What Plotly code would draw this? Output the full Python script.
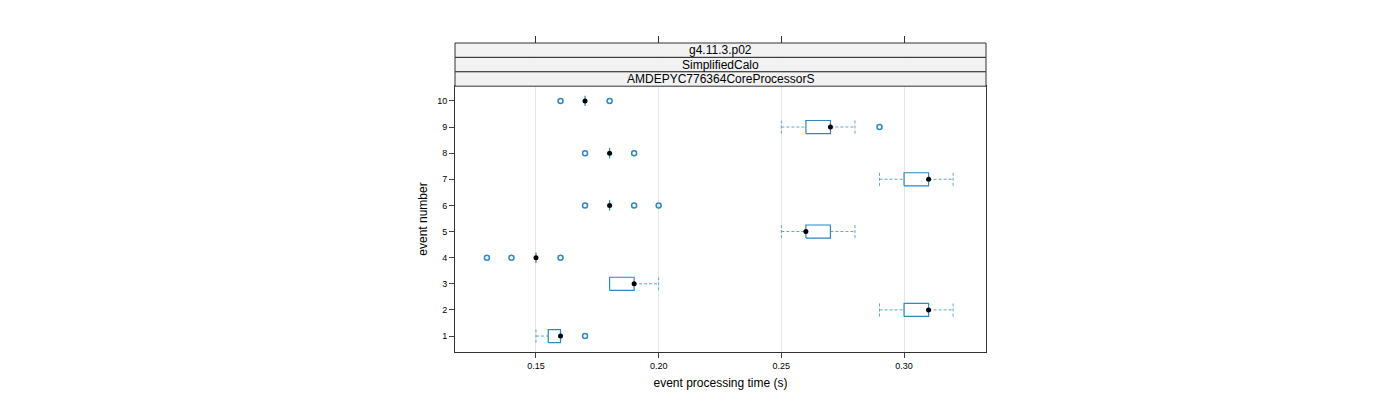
import plotly.graph_objects as go

events = [1, 2, 3, 4, 5, 6, 7, 8, 9, 10]
lo  = [0.150, 0.29, 0.18, 0.15, 0.25, 0.18, 0.29, 0.18, 0.25, 0.17]
q1  = [0.155, 0.30, 0.18, 0.15, 0.26, 0.18, 0.30, 0.18, 0.26, 0.17]
med = [0.160, 0.31, 0.19, 0.15, 0.26, 0.18, 0.31, 0.18, 0.27, 0.17]
q3  = [0.160, 0.31, 0.19, 0.15, 0.27, 0.18, 0.31, 0.18, 0.27, 0.17]
hi  = [0.160, 0.32, 0.20, 0.15, 0.28, 0.18, 0.32, 0.18, 0.28, 0.17]
outliers = {1: [0.17], 4: [0.13, 0.14, 0.16], 6: [0.17, 0.19, 0.20],
            8: [0.17, 0.19], 9: [0.29], 10: [0.16, 0.18]}
strips = ["g4.11.3.p02", "SimplifiedCalo", "AMDEPYC776364CoreProcessorS"]

BOX = "#2b88c4"
WH = "#5aa6d6"
hw = 0.25

fig = go.Figure()
bx, by, wx, wy, cx, cy = [], [], [], [], [], []
for e, a, b, m, c, d in zip(events, lo, q1, med, q3, hi):
    if c > b:
        bx += [b, c, c, b, b, None]
        by += [e - hw, e - hw, e + hw, e + hw, e - hw, None]
    else:
        bx += [m, m, None]
        by += [e - hw * 0.8, e + hw * 0.8, None]
    if b > a:
        wx += [a, b, None, a, a, None]
        wy += [e, e, None, e - hw, e + hw, None]
    if d > c:
        wx += [c, d, None, d, d, None]
        wy += [e, e, None, e - hw, e + hw, None]
fig.add_trace(go.Scatter(x=wx, y=wy, mode="lines", line=dict(color=WH, width=1, dash="3px,2px"), hoverinfo="skip"))
fig.add_trace(go.Scatter(x=bx, y=by, mode="lines", line=dict(color=BOX, width=1.2), hoverinfo="skip"))
ox, oy = [], []
for e, vals in outliers.items():
    for v in vals:
        ox.append(v); oy.append(e)
fig.add_trace(go.Scatter(x=ox, y=oy, mode="markers",
                         marker=dict(symbol="circle-open", size=5, color=BOX, line=dict(width=1.5))))
fig.add_trace(go.Scatter(x=med, y=events, mode="markers", marker=dict(color="black", size=5)))

shapes = []
sh = 14.4 / 266
top = 1 + 43 / 266
for i, s in enumerate(strips):
    y1 = top - i * sh
    shapes.append(dict(type="rect", xref="paper", yref="paper", x0=0, x1=1, y0=y1 - sh, y1=y1,
                       fillcolor="#f2f2f2", line=dict(color="#333", width=1)))
annotations = [dict(text=s, xref="paper", yref="paper", x=0.5, y=top - i * sh - sh / 2,
                    showarrow=False, font=dict(size=12, color="black"), yanchor="middle")
               for i, s in enumerate(strips)]

fig.update_layout(
    width=1400, height=400, showlegend=False,
    plot_bgcolor="white", paper_bgcolor="white",
    margin=dict(l=447, r=422, t=78, b=56),
    font=dict(family="Liberation Sans, Arial", color="black"),
    shapes=shapes, annotations=annotations,
    xaxis=dict(range=[0.117, 0.3334], tickvals=[0.15, 0.20, 0.25, 0.30],
               ticktext=["0.15", "0.20", "0.25", "0.30"], tickfont=dict(size=9),
               ticks="outside", ticklen=5, showline=True, mirror=True, linecolor="#333",
               showgrid=True, gridcolor="#e6e6e6", zeroline=False, automargin=False,
               title=dict(text="event processing time (s)", font=dict(size=12), standoff=8)),
    xaxis2=dict(range=[0.117, 0.3334], overlaying="x", side="top", tickvals=[0.15, 0.20, 0.25, 0.30],
                showticklabels=False, ticks="outside", ticklen=49, tickcolor="#333",
                showgrid=False, automargin=False),
    yaxis=dict(range=[0.39, 10.57], tickvals=events, tickfont=dict(size=9),
               ticks="outside", ticklen=5, showline=True, mirror=True, linecolor="#333",
               showgrid=False, zeroline=False, automargin=False,
               title=dict(text="event number", font=dict(size=12), standoff=6)),
)
fig.add_trace(go.Scatter(x=[None], y=[None], xaxis="x2", showlegend=False))
fig.write_html("out.html")
